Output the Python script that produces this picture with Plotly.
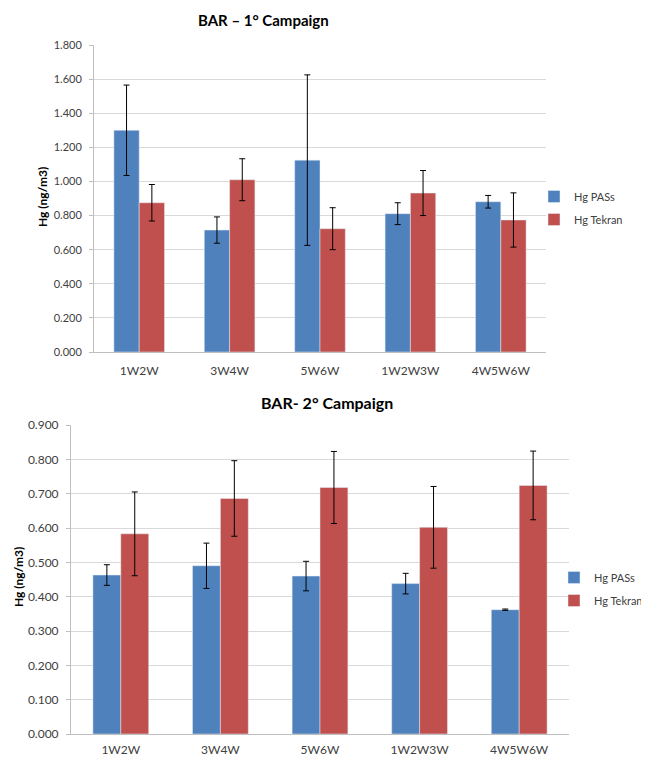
import plotly.graph_objects as go

categories = ["1W2W", "3W4W", "5W6W", "1W2W3W", "4W5W6W"]

# Campaign 1
c1_pass = [1.300, 0.715, 1.125, 0.811, 0.881]
c1_pass_err = [0.265, 0.077, 0.500, 0.064, 0.037]
c1_tek = [0.875, 1.010, 0.723, 0.932, 0.774]
c1_tek_err = [0.107, 0.123, 0.123, 0.132, 0.159]

# Campaign 2
c2_pass = [0.463, 0.490, 0.460, 0.438, 0.362]
c2_pass_err = [0.030, 0.066, 0.043, 0.030, 0.002]
c2_tek = [0.583, 0.686, 0.718, 0.602, 0.724]
c2_tek_err = [0.122, 0.110, 0.105, 0.119, 0.100]

title1 = "BAR – 1° Campaign"
title2 = "BAR- 2° Campaign"
ylab = "Hg (ng/m3)"
names = ["Hg PASs", "Hg Tekran"]

BLUE = "#4F81BD"
RED = "#C0504D"
FONT = "Lato, 'Open Sans', sans-serif"
OFF = 8                      # page body margin
W, H = 649 - OFF, 761 - OFF  # figure size fitting the window


def px_x(p):
    return (p - OFF) / W


def px_y(p):
    return 1 - (p - OFF) / H


fig = go.Figure()


def err(vals):
    return dict(type="data", array=vals, visible=True, color="black", thickness=1, width=3)


fig.add_trace(go.Bar(x=categories, y=c1_pass, name=names[0], marker_color=BLUE, legendgroup="a1",
                     error_y=err(c1_pass_err), xaxis="x", yaxis="y", legend="legend"))
fig.add_trace(go.Bar(x=categories, y=c1_tek, name=names[1], marker_color=RED, legendgroup="b1",
                     error_y=err(c1_tek_err), xaxis="x", yaxis="y", legend="legend"))
fig.add_trace(go.Bar(x=categories, y=c2_pass, name=names[0], marker_color=BLUE, legendgroup="a2",
                     error_y=err(c2_pass_err), xaxis="x2", yaxis="y2", legend="legend2"))
fig.add_trace(go.Bar(x=categories, y=c2_tek, name=names[1], marker_color=RED, legendgroup="b2",
                     error_y=err(c2_tek_err), xaxis="x2", yaxis="y2", legend="legend2"))

grid = "#d9d9d9"

yax = dict(showgrid=True, gridcolor=grid, gridwidth=1, tickformat=".3f",
           ticks="outside", ticklen=4, tickcolor="#bfbfbf", showline=True,
           linecolor="#bfbfbf", linewidth=1, zeroline=False, fixedrange=True,
           automargin=False, ticklabelstandoff=5)
xax = dict(showline=True, linecolor="#bfbfbf", linewidth=1, ticks="",
           tickfont=dict(family=FONT, size=12, color="#404040"),
           showgrid=False, zeroline=False, fixedrange=True, automargin=False)

legfont = dict(family=FONT, size=11, color="#404040")

fig.update_layout(
    width=W, height=H,
    margin=dict(l=0, r=0, t=0, b=0, autoexpand=False),
    paper_bgcolor="white", plot_bgcolor="white",
    barmode="group", bargap=0.44, bargroupgap=0,
    font=dict(family=FONT, color="#404040"),
    xaxis=dict(xax, domain=[px_x(94), px_x(546)], anchor="y", ticklabelstandoff=8),
    yaxis=dict(yax, domain=[px_y(352), px_y(45)], range=[0, 1.8], dtick=0.2, anchor="x",
               tickfont=dict(family=FONT, size=11, color="#404040")),
    xaxis2=dict(xax, domain=[px_x(71), px_x(569)], anchor="y2", ticklabelstandoff=5),
    yaxis2=dict(yax, domain=[px_y(734), px_y(425)], range=[0, 0.9], dtick=0.1, anchor="x2",
                tickfont=dict(family=FONT, size=12, color="#404040")),
    legend=dict(x=px_x(534), y=px_y(182), xanchor="left", yanchor="top",
                font=legfont, itemwidth=30, tracegroupgap=4, bgcolor="rgba(0,0,0,0)"),
    legend2=dict(x=px_x(554), y=px_y(563), xanchor="left", yanchor="top",
                 font=legfont, itemwidth=30, tracegroupgap=4, bgcolor="rgba(0,0,0,0)"),
    annotations=[
        dict(text=f"<b>{title1}</b>", x=px_x(263), y=px_y(20), xref="paper", yref="paper",
             xanchor="center", yanchor="middle",
             showarrow=False, font=dict(family=FONT, size=15, color="#000000")),
        dict(text=f"<b>{title2}</b>", x=px_x(327), y=px_y(402), xref="paper", yref="paper",
             xanchor="center", yanchor="middle",
             showarrow=False, font=dict(family=FONT, size=16, color="#000000")),
        dict(text=f"<b>{ylab}</b>", x=px_x(42), y=px_y(197), xref="paper", yref="paper",
             xanchor="center", yanchor="middle",
             showarrow=False, textangle=-90, font=dict(family=FONT, size=12, color="#000000")),
        dict(text=f"<b>{ylab}</b>", x=px_x(18), y=px_y(577), xref="paper", yref="paper",
             xanchor="center", yanchor="middle",
             showarrow=False, textangle=-90, font=dict(family=FONT, size=12, color="#000000")),
    ],
)

fig.write_html("out.html")
